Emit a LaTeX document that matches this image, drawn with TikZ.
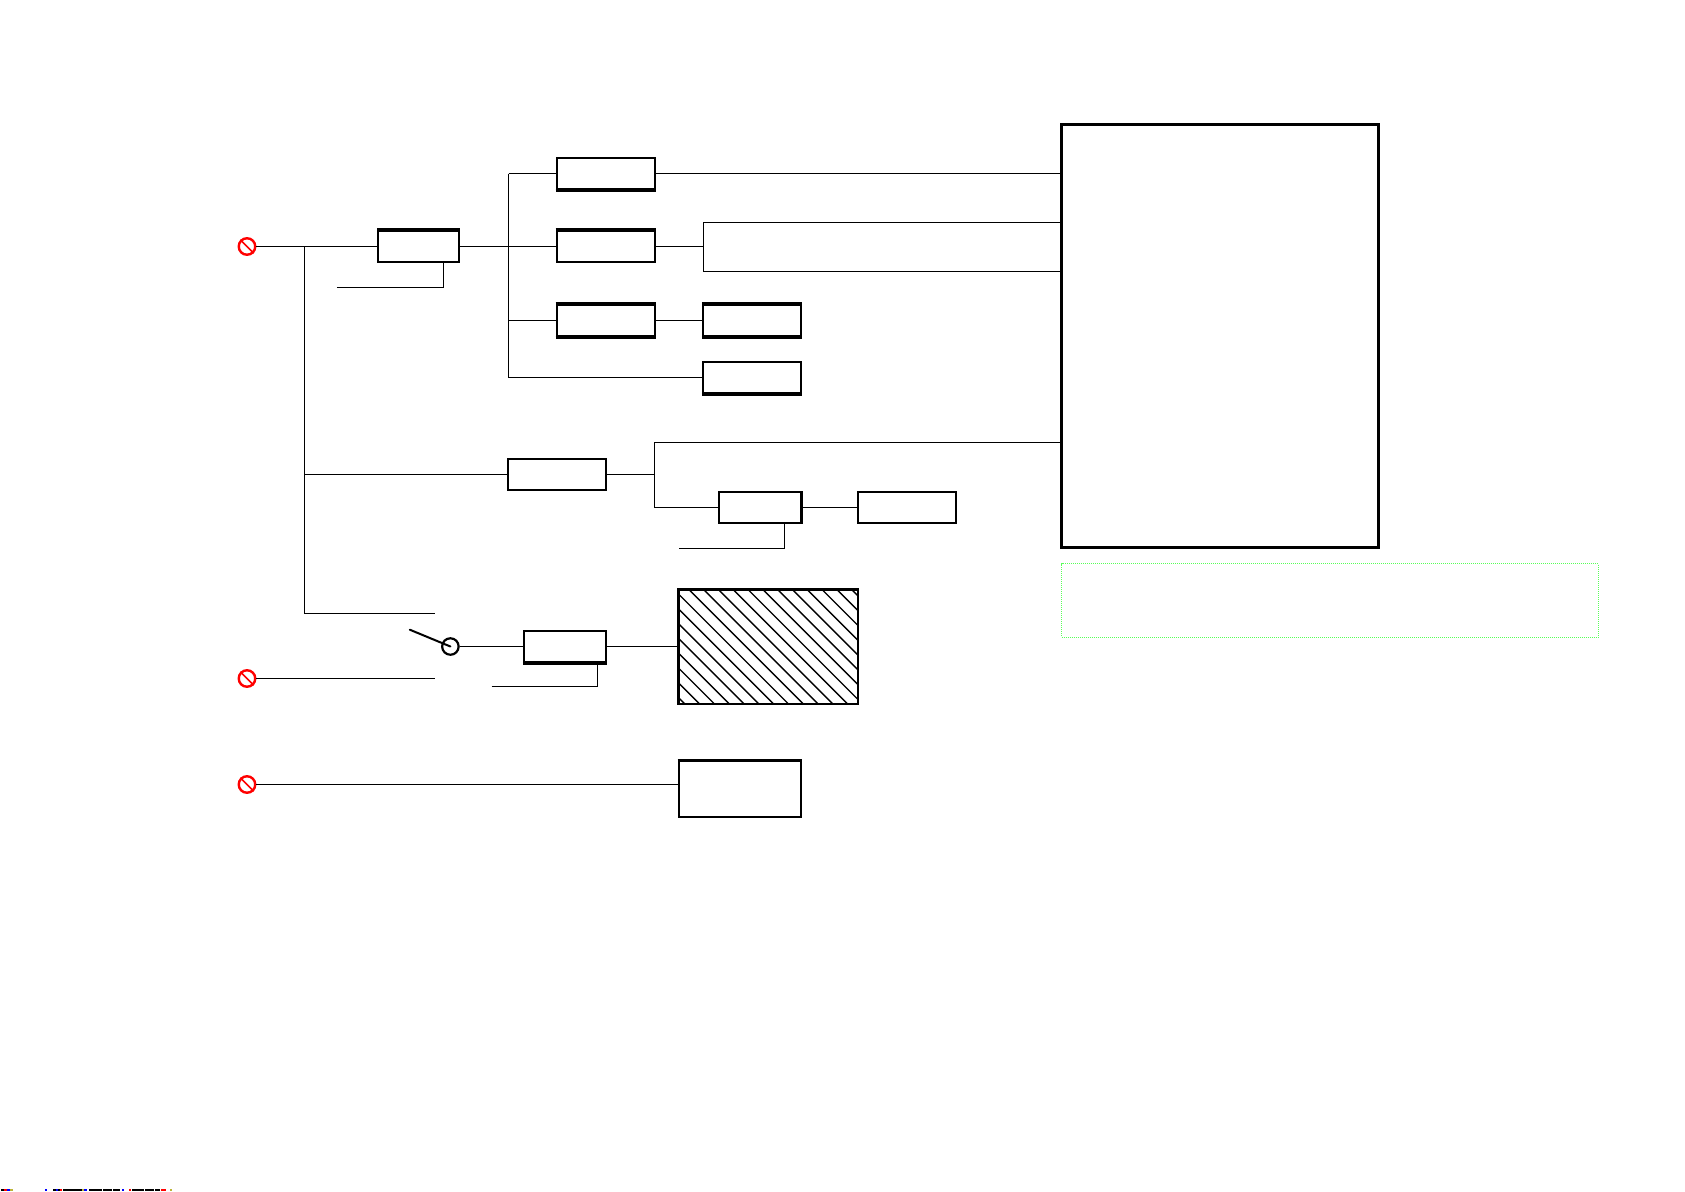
\documentclass[tikz,border=0pt]{standalone}
\tikzset{
  x=1pt,y=-1pt,
  wire/.style={line width=1.25pt,black},
  blk/.style={draw=black,line width=2.3pt,fill=white,rectangle,inner sep=0pt,minimum width=#1,minimum height=31.5pt},
  blk/.default=98pt,
  bigbox/.style={draw=black,line width=3pt,rectangle,inner sep=0pt,minimum width=317pt,minimum height=423pt},
  notebox/.style={draw=green!65!white,line width=1pt,densely dotted,rectangle,inner sep=0pt,minimum width=536.5pt,minimum height=73.5pt},
  term/.style={draw=red,line width=2.4pt,circle,inner sep=0pt,minimum size=16.5pt,fill=white},
  slash/.style={draw=red,line width=1.6pt},
  heavy/.style={line width=2.8pt,black,line cap=butt},
  hatchline/.style={line width=1.4pt,black},
  strip/.style={line width=1.6pt}
}
\begin{document}
\begin{tikzpicture}
\useasboundingbox (0,0) rectangle (1685,1191);
% blocks
\node[blk=81pt] (a) at (418.7,246.5) {};
\node[blk] (b) at (605.7,173.5) {};
\node[blk] (c) at (605.7,246.5) {};
\node[blk] (d) at (605.7,320.5) {};
\node[blk] (e) at (752,320.5) {};
\node[blk] (f) at (752,377.5) {};
\node[blk] (i) at (557,474.5) {};
\node[blk=82.5pt] (j) at (760.3,507.5) {};
\node[blk] (k) at (907,507.5) {};
\node[blk=82pt] (g) at (565,646.5) {};
\node[rectangle,draw=black,line width=2.2pt,inner sep=0pt,minimum width=122.4pt,minimum height=56pt] (h) at (739.8,789) {};
\node[bigbox] (big) at (1220.2,336.4) {};
\node[notebox] (note) at (1329.9,600.7) {};
\node[rectangle,inner sep=0pt,minimum width=179.4pt,minimum height=114pt] (hatch) at (768.3,646.5) {};
% hatch
\begin{scope}
\clip (hatch.north west) rectangle (hatch.south east);
\foreach \n in {-8,...,14} {
  \draw[hatchline] ({688.3+\n*14.8},589) -- ({688.3+\n*14.8+120},709);
}
\end{scope}
\draw[black,line width=2.4pt] (hatch.north west) rectangle (hatch.south east);
% terminals
\node[term] (t1) at (247,246.5) {};
\node[term] (t2) at (247,678.5) {};
\node[term] (t3) at (247,784.5) {};
\foreach \t in {t1,t2,t3} \draw[slash] (\t.north west) -- (\t.south east);
% junctions and free ends
\coordinate (j0) at (304.5,246.5);
\coordinate (j1) at (304.5,474.5);
\coordinate (j2) at (304.5,613.5);
\coordinate (sw1) at (434.8,613.5);
\coordinate (sw2) at (434.8,678.5);
\coordinate (v0) at (508.5,173.5);
\coordinate (v1) at (508.5,246.5);
\coordinate (v2) at (508.5,320.5);
\coordinate (v3) at (508.5,377.5);
\coordinate (r1) at (703.5,222.5);
\coordinate (r2) at (703.5,271.5);
\coordinate (m1) at (654.5,442.5);
\coordinate (m2) at (654.5,507.5);
\coordinate (s1) at (336.8,287.5);
\coordinate (s1a) at (443.8,287.5);
\coordinate (s2) at (679,548.5);
\coordinate (s2a) at (784.5,548.5);
\coordinate (s3) at (491.5,686.5);
\coordinate (s3a) at (597.5,686.5);
\coordinate (lever) at (409.8,629.7);
\node[draw=black,line width=2.2pt,circle,inner sep=0pt,minimum size=16.5pt] (sw) at (450.4,646.5) {};
% connectors
\draw[wire] (t1) -- (a.west);
\draw[wire] (j0) -- (j2) -- (sw1);
\draw[wire] (j1) -- (i.west);
\draw[wire] (a.east) -- (c.west);
\draw[wire] (v0) -- (v3) -- (f.west);
\draw[wire] (v0) -- (b.west);
\draw[wire] (v2) -- (d.west);
\draw[wire] (b.east) -- (b.east -| big.west);
\draw[wire] (c.east) -- (c.east -| r1);
\draw[wire] (big.west |- r1) -- (r1) -- (r2) -- (big.west |- r2);
\draw[wire] (d.east) -- (e.west);
\draw[wire] (s1) -- (s1a) -- (a.south -| s1a);
\draw[wire] (i.east) -- (i.east -| m1);
\draw[wire] (big.west |- m1) -- (m1) -- (m2) -- (j.west);
\draw[wire] (j.east) -- (k.west);
\draw[wire] (s2) -- (s2a) -- (j.south -| s2a);
\draw[wire] (t2) -- (sw2);
\draw[wire] (t3) -- (t3 -| h.west);
\draw[wire] (sw) -- (g.west);
\draw[wire] (g.east) -- (hatch.west);
\draw[wire] (s3) -- (s3a) -- (g.south -| s3a);
\draw[line width=2pt,black,line cap=round] (lever) -- (sw.center);
% heavier edges
\draw[heavy] (a.north west) -- (a.north east);
\draw[heavy] (b.south west) -- (b.south east);
\draw[heavy] (c.north west) -- (c.north east);
\draw[heavy] (d.north west) -- (d.north east);
\draw[heavy] (d.south west) -- (d.south east);
\draw[heavy] (e.north west) -- (e.north east);
\draw[heavy] (e.south west) -- (e.south east);
\draw[heavy] (f.south west) -- (f.south east);
\draw[heavy] (g.south west) -- (g.south east);
\draw[heavy] (h.north west) -- (h.north east);
% bottom edge strip
\foreach \xa/\xb/\c in {1/4/black,4/7/red,7/10/blue,10/13/yellow!70!black,45/47/blue,53/56/black,56/58/blue,58/60/black,60/62/red,63/82/black,82/84/yellow!70!black,84/87/blue,89/102/black,103/112/black,113/120/black,122/124/blue,129/131/red,132/144/black,145/154/black,155/160/black,161/166/red,170/172/yellow!70!black}
  \draw[strip,\c] (\xa,1190.2) -- (\xb,1190.2);
\end{tikzpicture}
\end{document}
